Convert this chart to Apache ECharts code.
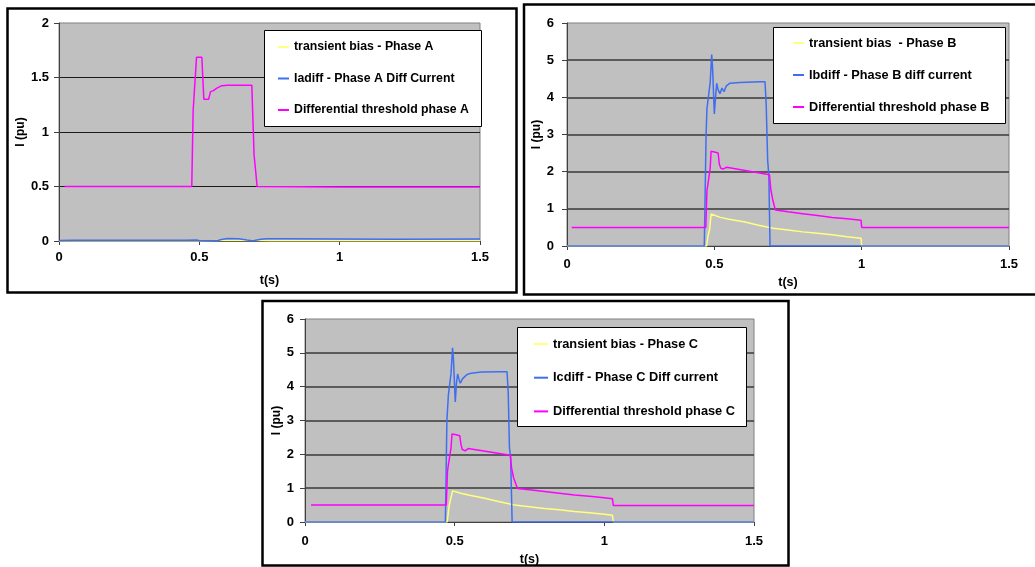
<!DOCTYPE html>
<html>
<head>
<meta charset="utf-8">
<script src="https://cdn.jsdelivr.net/npm/echarts@6/dist/echarts.min.js"></script>
<style>
  html, body { margin: 0; padding: 0; background: #fff; }
  #main { width: 1035px; height: 567px; }
</style>
</head>
<body>
<div id="main"></div>
<script>
// ---- Phase A ----
var tA_bias = [0, 0.5, 0.58, 0.7, 0.75, 1.0, 1.5];
var vA_bias = [0, 0, 0.005, 0.005, 0.003, 0.002, 0.002];
var tA_diff = [0, 0.05, 0.2, 0.45, 0.49, 0.5, 0.565, 0.575, 0.6, 0.64, 0.67, 0.69, 0.72, 0.74, 0.8, 1.0, 1.2, 1.5];
var vA_diff = [0.005, 0.007, 0.006, 0.007, 0.01, 0.002, 0.002, 0.012, 0.022, 0.021, 0.01, 0.003, 0.015, 0.02, 0.02, 0.018, 0.017, 0.018];
var tA_thr = [0.02, 0.473, 0.478, 0.483, 0.49, 0.509, 0.516, 0.533, 0.536, 0.54, 0.55, 0.561, 0.58, 0.6, 0.687, 0.695, 0.7, 0.706, 1.0, 1.5];
var vA_thr = [0.5, 0.5, 1.2, 1.21, 1.685, 1.685, 1.3, 1.3, 1.29, 1.37, 1.38, 1.4, 1.425, 1.43, 1.43, 0.79, 0.78, 0.5, 0.495, 0.495];

// ---- Phase B ----
var tB_bias = [0, 0.474, 0.478, 0.481, 0.484, 0.489, 0.52, 0.55, 0.6, 0.65, 0.7, 0.75, 0.8, 0.85, 0.9, 0.95, 0.998, 1.0, 1.5];
var vB_bias = [0, 0, 0.25, 0.35, 0.45, 0.86, 0.77, 0.72, 0.65, 0.56, 0.48, 0.43, 0.38, 0.34, 0.3, 0.25, 0.21, 0, 0];
var tB_diff = [0, 0.466, 0.472, 0.475, 0.481, 0.486, 0.491, 0.494, 0.5, 0.505, 0.508, 0.513, 0.519, 0.526, 0.533, 0.54, 0.553, 0.587, 0.655, 0.672, 0.676, 0.681, 0.685, 0.689, 1.5];
var vB_diff = [0, 0, 3.0, 3.7, 3.75, 4.4, 5.15, 4.8, 3.55, 4.1, 4.38, 4.2, 4.1, 4.25, 4.15, 4.3, 4.38, 4.4, 4.42, 4.42, 3.8, 2.3, 1.9, 0, 0];
var tB_thr = [0.016, 0.471, 0.475, 0.479, 0.482, 0.486, 0.489, 0.5, 0.513, 0.517, 0.522, 0.53, 0.535, 0.542, 0.687, 0.692, 0.698, 0.703, 0.707, 0.75, 0.8, 0.85, 0.9, 0.95, 0.998, 1.0, 1.5];
var vB_thr = [0.5, 0.5, 1.5, 1.7, 1.75, 2.1, 2.55, 2.53, 2.5, 2.2, 2.09, 2.07, 2.1, 2.12, 1.92, 1.5, 1.25, 1.22, 0.97, 0.92, 0.87, 0.82, 0.77, 0.73, 0.69, 0.5, 0.5];

// ---- Phase C ----
var tC_bias = [0, 0.475, 0.479, 0.482, 0.486, 0.493, 0.52, 0.55, 0.6, 0.65, 0.7, 0.75, 0.8, 0.85, 0.9, 0.95, 1.0, 1.027, 1.03, 1.5];
var vC_bias = [0, 0, 0.3, 0.5, 0.55, 0.92, 0.85, 0.79, 0.7, 0.6, 0.5, 0.45, 0.4, 0.36, 0.31, 0.27, 0.23, 0.2, 0, 0];
var tC_diff = [0, 0.469, 0.474, 0.479, 0.484, 0.488, 0.493, 0.496, 0.502, 0.506, 0.51, 0.515, 0.519, 0.526, 0.532, 0.54, 0.555, 0.59, 0.65, 0.675, 0.679, 0.683, 0.687, 0.692, 1.5];
var vC_diff = [0, 0, 3.0, 3.75, 3.78, 4.4, 5.15, 4.8, 3.55, 4.1, 4.38, 4.2, 4.1, 4.23, 4.2, 4.35, 4.4, 4.43, 4.44, 4.44, 3.8, 2.2, 1.9, 0, 0];
var tC_thr = [0.02, 0.472, 0.476, 0.48, 0.484, 0.488, 0.491, 0.505, 0.517, 0.521, 0.525, 0.535, 0.545, 0.686, 0.69, 0.697, 0.703, 0.71, 0.75, 0.8, 0.85, 0.9, 0.95, 1.0, 1.027, 1.03, 1.5];
var vC_thr = [0.5, 0.5, 1.5, 1.75, 1.78, 2.2, 2.6, 2.58, 2.55, 2.3, 2.15, 2.1, 2.17, 1.97, 1.6, 1.3, 1.27, 0.99, 0.95, 0.9, 0.85, 0.8, 0.76, 0.72, 0.69, 0.49, 0.49];

var FONT = 'Liberation Sans, Arial, sans-serif';
var YELLOW = '#ffff80', BLUE = '#3f6ef0', MAGENTA = '#ff00ff';

function pairs(t, v) {
    var out = [];
    for (var i = 0; i < t.length; i++) out.push([t[i], v[i]]);
    return out;
}

function xAxis(idx, margin, gap) {
    return {
        gridIndex: idx, type: 'value', min: 0, max: 1.5, interval: 0.5,
        name: 't(s)', nameLocation: 'middle', nameGap: gap,
        nameTextStyle: {fontFamily: FONT, fontWeight: 'bold', fontSize: 12.5, color: '#000'},
        axisLine: {show: true, onZero: false, lineStyle: {color: '#404040', width: 1}},
        axisTick: {show: true, length: 4, lineStyle: {color: '#404040'}},
        axisLabel: {fontFamily: FONT, fontWeight: 'bold', fontSize: 13, color: '#000', margin: margin},
        splitLine: {show: false}
    };
}

function yAxis(idx, max, interval, margin, gap, gridColor, gridWidth) {
    return {
        gridIndex: idx, type: 'value', min: 0, max: max, interval: interval,
        name: 'I (pu)', nameLocation: 'middle', nameGap: gap,
        nameTextStyle: {fontFamily: FONT, fontWeight: 'bold', fontSize: 12, color: '#000'},
        axisLine: {show: true, lineStyle: {color: '#404040', width: 1}},
        axisTick: {show: true, length: 5, lineStyle: {color: '#404040'}},
        axisLabel: {fontFamily: FONT, fontWeight: 'bold', fontSize: 13, color: '#000', margin: margin},
        splitLine: {show: true, showMinLine: false, showMaxLine: false, lineStyle: {color: gridColor, width: gridWidth}}
    };
}

function line(name, idx, data, color) {
    return {
        name: name, type: 'line', xAxisIndex: idx, yAxisIndex: idx,
        data: data, symbol: 'none', showSymbol: false,
        lineStyle: {color: color, width: 1.5}, itemStyle: {color: color},
        animation: false
    };
}

function legend(names, left, top, gap, fs, iw) {
    return {
        orient: 'vertical', left: left, top: top, itemGap: gap, padding: 0,
        itemWidth: iw, itemHeight: 2, icon: 'rect', z: 20,
        data: names, selectedMode: false,
        textStyle: {fontFamily: FONT, fontWeight: 'bold', fontSize: fs, color: '#000', lineHeight: 14}
    };
}

var namesA = ['transient bias - Phase A', 'Iadiff - Phase A Diff Current', 'Differential threshold phase A'];
var namesB = ['transient bias  - Phase B', 'Ibdiff - Phase B diff current', 'Differential threshold phase B'];
var namesC = ['transient bias - Phase C', 'Icdiff - Phase C Diff current', 'Differential threshold phase C'];

var gridStyle = {show: true, backgroundColor: '#c0c0c0', borderColor: '#808080', borderWidth: 1};

option = {
    backgroundColor: '#fff',
    animation: false,
    grid: [
        Object.assign({left: 59, top: 23, width: 421, height: 218}, gridStyle),
        Object.assign({left: 567, top: 23, width: 442, height: 223}, gridStyle),
        Object.assign({left: 305, top: 319, width: 449, height: 203}, gridStyle)
    ],
    xAxis: [xAxis(0, 10, 33), xAxis(1, 12, 30), xAxis(2, 13, 31)],
    yAxis: [
        yAxis(0, 2, 0.5, 10, 27, '#1a1a1a', 1),
        yAxis(1, 6, 1, 13, 19, '#3a3a3a', 1.5),
        yAxis(2, 6, 1, 11, 18, '#3a3a3a', 1.5)
    ],
    legend: [
        legend(namesA, 278, 40, 17.5, 12.3, 11),
        legend(namesB, 793, 36, 18, 12.7, 11),
        legend(namesC, 534, 337, 19.7, 12.8, 14)
    ],
    graphic: [
        {type: 'rect', z: 10, shape: {x: 264.5, y: 30.5, width: 217, height: 96}, style: {fill: '#fff', stroke: '#000', lineWidth: 1}},
        {type: 'rect', z: 10, shape: {x: 773.5, y: 27.5, width: 232, height: 96}, style: {fill: '#fff', stroke: '#000', lineWidth: 1}},
        {type: 'rect', z: 10, shape: {x: 517.5, y: 327.5, width: 229, height: 99}, style: {fill: '#fff', stroke: '#000', lineWidth: 1}},
        {type: 'rect', z: 10, shape: {x: 7.5, y: 8.5, width: 509, height: 284}, style: {fill: 'none', stroke: '#000', lineWidth: 2.5}},
        {type: 'rect', z: 10, shape: {x: 524, y: 4.5, width: 520, height: 290}, style: {fill: 'none', stroke: '#000', lineWidth: 2.5}},
        {type: 'rect', z: 10, shape: {x: 262.5, y: 301, width: 526, height: 264.5}, style: {fill: 'none', stroke: '#000', lineWidth: 2.5}}
    ],
    series: [
        line(namesA[0], 0, pairs(tA_bias, vA_bias), YELLOW),
        line(namesA[1], 0, pairs(tA_diff, vA_diff), BLUE),
        line(namesA[2], 0, pairs(tA_thr, vA_thr), MAGENTA),
        line(namesB[0], 1, pairs(tB_bias, vB_bias), YELLOW),
        line(namesB[1], 1, pairs(tB_diff, vB_diff), BLUE),
        line(namesB[2], 1, pairs(tB_thr, vB_thr), MAGENTA),
        line(namesC[0], 2, pairs(tC_bias, vC_bias), YELLOW),
        line(namesC[1], 2, pairs(tC_diff, vC_diff), BLUE),
        line(namesC[2], 2, pairs(tC_thr, vC_thr), MAGENTA)
    ]
};

var myChart = echarts.init(document.getElementById('main'));
myChart.setOption(option);
</script>
</body>
</html>
